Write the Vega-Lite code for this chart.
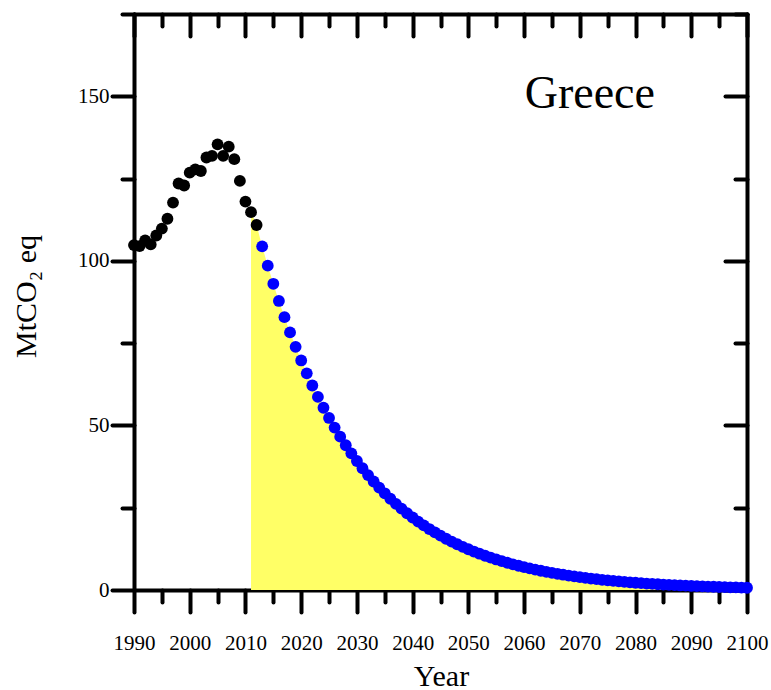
{
  "$schema": "https://vega.github.io/schema/vega-lite/v6.json",
  "width": 613,
  "height": 576,
  "autosize": "none",
  "padding": {"left": 134, "top": 14, "right": 24, "bottom": 100},
  "background": "white",
  "config": {
    "view": {"stroke": null},
    "axis": {
      "grid": false,
      "domainColor": "black",
      "domainWidth": 4,
      "domainCap": "round",
      "tickColor": "black",
      "tickWidth": 4,
      "tickCap": "round",
      "labelFont": "Liberation Serif",
      "labelFontSize": 21,
      "labelColor": "black",
      "titleFont": "Liberation Serif",
      "titleFontWeight": "normal",
      "titleColor": "black",
      "titleFontSize": 30
    }
  },
  "data": {
    "values": [
      {"year": 1990, "value": 104.8, "period": "hist"},
      {"year": 1991, "value": 104.5, "period": "hist"},
      {"year": 1992, "value": 106.2, "period": "hist"},
      {"year": 1993, "value": 105.0, "period": "hist"},
      {"year": 1994, "value": 107.7, "period": "hist"},
      {"year": 1995, "value": 109.8, "period": "hist"},
      {"year": 1996, "value": 112.8, "period": "hist"},
      {"year": 1997, "value": 117.7, "period": "hist"},
      {"year": 1998, "value": 123.5, "period": "hist"},
      {"year": 1999, "value": 122.9, "period": "hist"},
      {"year": 2000, "value": 126.8, "period": "hist"},
      {"year": 2001, "value": 127.8, "period": "hist"},
      {"year": 2002, "value": 127.3, "period": "hist"},
      {"year": 2003, "value": 131.4, "period": "hist"},
      {"year": 2004, "value": 131.9, "period": "hist"},
      {"year": 2005, "value": 135.4, "period": "hist"},
      {"year": 2006, "value": 131.9, "period": "hist"},
      {"year": 2007, "value": 134.7, "period": "hist"},
      {"year": 2008, "value": 130.9, "period": "hist"},
      {"year": 2009, "value": 124.3, "period": "hist"},
      {"year": 2010, "value": 118.0, "period": "hist"},
      {"year": 2011, "value": 114.8, "period": "hist"},
      {"year": 2012, "value": 110.9, "period": "hist"},
      {"year": 2013, "value": 104.4, "period": "proj"},
      {"year": 2014, "value": 98.55, "period": "proj"},
      {"year": 2015, "value": 93.03, "period": "proj"},
      {"year": 2016, "value": 87.82, "period": "proj"},
      {"year": 2017, "value": 82.90, "period": "proj"},
      {"year": 2018, "value": 78.26, "period": "proj"},
      {"year": 2019, "value": 73.88, "period": "proj"},
      {"year": 2020, "value": 69.74, "period": "proj"},
      {"year": 2021, "value": 65.83, "period": "proj"},
      {"year": 2022, "value": 62.14, "period": "proj"},
      {"year": 2023, "value": 58.66, "period": "proj"},
      {"year": 2024, "value": 55.38, "period": "proj"},
      {"year": 2025, "value": 52.27, "period": "proj"},
      {"year": 2026, "value": 49.35, "period": "proj"},
      {"year": 2027, "value": 46.58, "period": "proj"},
      {"year": 2028, "value": 43.97, "period": "proj"},
      {"year": 2029, "value": 41.51, "period": "proj"},
      {"year": 2030, "value": 39.19, "period": "proj"},
      {"year": 2031, "value": 36.99, "period": "proj"},
      {"year": 2032, "value": 34.92, "period": "proj"},
      {"year": 2033, "value": 32.97, "period": "proj"},
      {"year": 2034, "value": 31.12, "period": "proj"},
      {"year": 2035, "value": 29.38, "period": "proj"},
      {"year": 2036, "value": 27.73, "period": "proj"},
      {"year": 2037, "value": 26.18, "period": "proj"},
      {"year": 2038, "value": 24.71, "period": "proj"},
      {"year": 2039, "value": 23.33, "period": "proj"},
      {"year": 2040, "value": 22.02, "period": "proj"},
      {"year": 2041, "value": 20.79, "period": "proj"},
      {"year": 2042, "value": 19.62, "period": "proj"},
      {"year": 2043, "value": 18.52, "period": "proj"},
      {"year": 2044, "value": 17.49, "period": "proj"},
      {"year": 2045, "value": 16.51, "period": "proj"},
      {"year": 2046, "value": 15.58, "period": "proj"},
      {"year": 2047, "value": 14.71, "period": "proj"},
      {"year": 2048, "value": 13.89, "period": "proj"},
      {"year": 2049, "value": 13.11, "period": "proj"},
      {"year": 2050, "value": 12.37, "period": "proj"},
      {"year": 2051, "value": 11.68, "period": "proj"},
      {"year": 2052, "value": 11.03, "period": "proj"},
      {"year": 2053, "value": 10.41, "period": "proj"},
      {"year": 2054, "value": 9.83, "period": "proj"},
      {"year": 2055, "value": 9.28, "period": "proj"},
      {"year": 2056, "value": 8.76, "period": "proj"},
      {"year": 2057, "value": 8.27, "period": "proj"},
      {"year": 2058, "value": 7.80, "period": "proj"},
      {"year": 2059, "value": 7.37, "period": "proj"},
      {"year": 2060, "value": 6.95, "period": "proj"},
      {"year": 2061, "value": 6.56, "period": "proj"},
      {"year": 2062, "value": 6.20, "period": "proj"},
      {"year": 2063, "value": 5.85, "period": "proj"},
      {"year": 2064, "value": 5.52, "period": "proj"},
      {"year": 2065, "value": 5.21, "period": "proj"},
      {"year": 2066, "value": 4.92, "period": "proj"},
      {"year": 2067, "value": 4.65, "period": "proj"},
      {"year": 2068, "value": 4.39, "period": "proj"},
      {"year": 2069, "value": 4.14, "period": "proj"},
      {"year": 2070, "value": 3.91, "period": "proj"},
      {"year": 2071, "value": 3.69, "period": "proj"},
      {"year": 2072, "value": 3.48, "period": "proj"},
      {"year": 2073, "value": 3.29, "period": "proj"},
      {"year": 2074, "value": 3.10, "period": "proj"},
      {"year": 2075, "value": 2.93, "period": "proj"},
      {"year": 2076, "value": 2.77, "period": "proj"},
      {"year": 2077, "value": 2.61, "period": "proj"},
      {"year": 2078, "value": 2.46, "period": "proj"},
      {"year": 2079, "value": 2.33, "period": "proj"},
      {"year": 2080, "value": 2.20, "period": "proj"},
      {"year": 2081, "value": 2.07, "period": "proj"},
      {"year": 2082, "value": 1.96, "period": "proj"},
      {"year": 2083, "value": 1.85, "period": "proj"},
      {"year": 2084, "value": 1.74, "period": "proj"},
      {"year": 2085, "value": 1.65, "period": "proj"},
      {"year": 2086, "value": 1.55, "period": "proj"},
      {"year": 2087, "value": 1.47, "period": "proj"},
      {"year": 2088, "value": 1.38, "period": "proj"},
      {"year": 2089, "value": 1.31, "period": "proj"},
      {"year": 2090, "value": 1.23, "period": "proj"},
      {"year": 2091, "value": 1.16, "period": "proj"},
      {"year": 2092, "value": 1.10, "period": "proj"},
      {"year": 2093, "value": 1.04, "period": "proj"},
      {"year": 2094, "value": 0.98, "period": "proj"},
      {"year": 2095, "value": 0.92, "period": "proj"},
      {"year": 2096, "value": 0.87, "period": "proj"},
      {"year": 2097, "value": 0.82, "period": "proj"},
      {"year": 2098, "value": 0.78, "period": "proj"},
      {"year": 2099, "value": 0.73, "period": "proj"},
      {"year": 2100, "value": 0.69, "period": "proj"}
    ]
  },
  "layer": [
    {
      "transform": [{"filter": "datum.year >= 2011"}],
      "mark": {"type": "area", "color": "#ffff66", "opacity": 1},
      "encoding": {
        "x": {
          "field": "year", "type": "quantitative",
          "scale": {"domain": [1990, 2100], "nice": false, "zero": false},
          "axis": {
            "orient": "bottom",
            "title": "Year",
            "values": [1990, 1995, 2000, 2005, 2010, 2015, 2020, 2025, 2030, 2035, 2040, 2045, 2050, 2055, 2060, 2065, 2070, 2075, 2080, 2085, 2090, 2095, 2100],
            "format": "d",
            "labelExpr": "datum.value % 10 === 0 ? datum.label : ''",
            "tickSize": {"condition": {"test": "datum.value % 10 === 0", "value": 22}, "value": 12},
            "labelPadding": 20,
            "labelFlush": false,
            "labelOverlap": false,
            "titleX": 307,
            "titleY": 95,
            "titleAlign": "center",
            "titleBaseline": "alphabetic"
          }
        },
        "y": {
          "field": "value", "type": "quantitative",
          "scale": {"domain": [0, 175], "nice": false},
          "axis": {
            "orient": "left",
            "title": "MtCO₂ eq",
            "values": [0, 25, 50, 75, 100, 125, 150, 175],
            "labelExpr": "datum.value % 50 === 0 ? datum.label : ''",
            "tickSize": {"condition": {"test": "datum.value % 50 === 0", "value": 22}, "value": 12},
            "labelPadding": 3,
            "labelFlush": false,
            "labelOverlap": false,
            "titleAngle": 270,
            "titleX": -99,
            "titleY": 282,
            "titleAlign": "center",
            "titleBaseline": "alphabetic"
          }
        }
      }
    },
    {
      "mark": {"type": "point", "filled": true, "size": 140, "opacity": 1},
      "encoding": {
        "x": {
          "field": "year", "type": "quantitative",
          "axis": {
            "orient": "top",
            "title": null,
            "labels": false,
            "values": [1990, 1995, 2000, 2005, 2010, 2015, 2020, 2025, 2030, 2035, 2040, 2045, 2050, 2055, 2060, 2065, 2070, 2075, 2080, 2085, 2090, 2095, 2100],
            "tickSize": {"condition": {"test": "datum.value % 10 === 0", "value": -22}, "value": -12}
          }
        },
        "y": {
          "field": "value", "type": "quantitative",
          "axis": {
            "orient": "right",
            "title": null,
            "labels": false,
            "values": [0, 25, 50, 75, 100, 125, 150, 175],
            "tickSize": {"condition": {"test": "datum.value % 50 === 0", "value": -22}, "value": -12}
          }
        },
        "color": {
          "field": "period", "type": "nominal",
          "scale": {"domain": ["hist", "proj"], "range": ["#000000", "#0000ff"]},
          "legend": null
        }
      }
    },
    {
      "data": {"values": [{"year": 2071.8, "value": 146.5, "label": "Greece"}]},
      "mark": {"type": "text", "font": "Liberation Serif", "fontSize": 46, "align": "center", "baseline": "alphabetic", "color": "black"},
      "encoding": {
        "x": {"field": "year", "type": "quantitative", "axis": null},
        "y": {"field": "value", "type": "quantitative", "axis": null},
        "text": {"field": "label"}
      }
    }
  ],
  "resolve": {"axis": {"x": "independent", "y": "independent"}}
}
